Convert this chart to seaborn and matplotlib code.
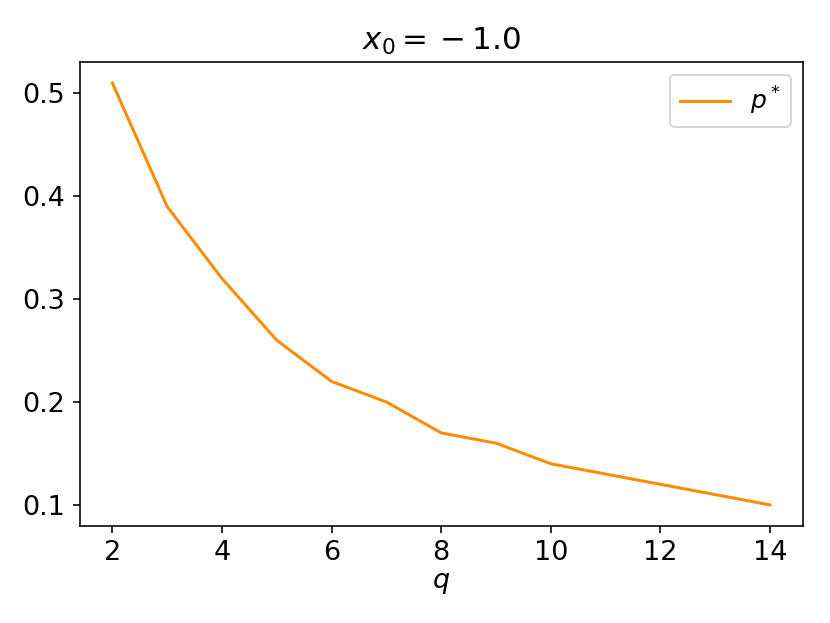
import matplotlib
matplotlib.use("Agg")
import matplotlib.pyplot as plt
import seaborn as sns
import pandas as pd

q_values = [2, 3, 4, 5, 6, 7, 8, 9, 10, 11, 12, 13, 14]
p_star = [0.51, 0.39, 0.32, 0.26, 0.22, 0.20, 0.17, 0.16, 0.14, 0.13, 0.12, 0.11, 0.10]
x_ticks = [2, 4, 6, 8, 10, 12, 14]
y_ticks = [0.1, 0.2, 0.3, 0.4, 0.5]

plt.rcParams['font.size'] = 13.5
df = pd.DataFrame({"q": q_values, "p": p_star})

fig = plt.figure(figsize=(830 / 144, 623 / 144), dpi=144)
ax = fig.add_axes([79.5 / 830, 1 - 526 / 623, (803 - 79.5) / 830, (526 - 62) / 623])
sns.lineplot(data=df, x="q", y="p", ax=ax, color="darkorange", linewidth=1.5, label="$p^*$")
ax.set_xticks(x_ticks)
ax.set_yticks(y_ticks)
ax.set_xlabel("$q$", labelpad=2)
ax.set_ylabel("")
ax.set_title("$x_0 = {} - 1.0$", fontsize=15.5)
ax.legend(loc="upper right", fontsize=12.5)
fig.savefig("out.png", dpi=144)
